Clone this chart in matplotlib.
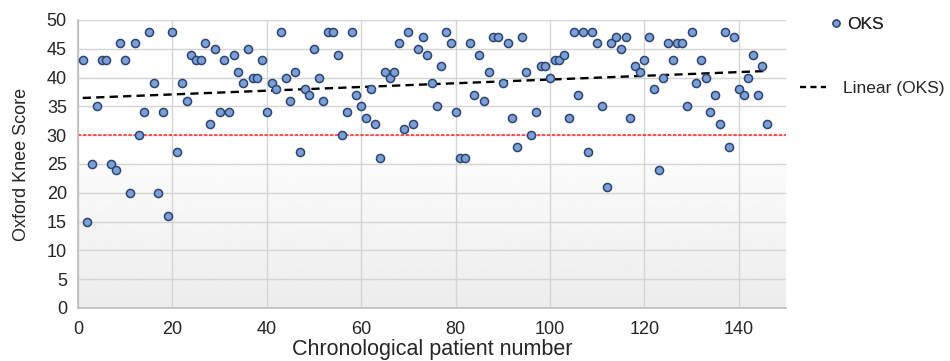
import numpy as np
import matplotlib.pyplot as plt
from matplotlib.lines import Line2D

# Oxford Knee Score per patient
oks = [43, 15, 25, 35, 43, 43, 25, 24, 46, 43,
       20, 46, 30, 34, 48, 39, 20, 34, 16, 48,
       27, 39, 36, 44, 43, 43, 46, 32, 45, 34,
       43, 34, 44, 41, 39, 45, 40, 40, 43, 34,
       39, 38, 48, 40, 36, 41, 27, 38, 37, 45,
       40, 36, 48, 48, 44, 30, 34, 48, 37, 35,
       33, 38, 32, 26, 41, 40, 41, 46, 31, 48,
       32, 45, 47, 44, 39, 35, 42, 48, 46, 34,
       26, 26, 46, 37, 44, 36, 41, 47, 47, 39,
       46, 33, 28, 47, 41, 30, 34, 42, 42, 40,
       43, 43, 44, 33, 48, 37, 48, 27, 48, 46,
       35, 21, 46, 47, 45, 47, 33, 42, 41, 43,
       47, 38, 24, 40, 46, 43, 46, 46, 35, 48,
       39, 43, 40, 34, 37, 32, 48, 28, 47, 38,
       37, 40, 44, 37, 42, 32]
patient = np.arange(1, len(oks) + 1)
threshold = 30
xticks = [0, 20, 40, 60, 80, 100, 120, 140]
yticks = [0, 5, 10, 15, 20, 25, 30, 35, 40, 45, 50]

plt.rcParams["font.family"] = ["Liberation Sans", "DejaVu Sans"]
txt = "#262626"

fig = plt.figure(figsize=(9.5, 3.61), dpi=100)
ax = fig.add_axes([78 / 950, 53 / 361, 708 / 950, 288 / 361])

# excel-like background: white at top, light grey gradient lower down
yy = np.linspace(0, 50, 200)
shade = np.interp(yy, [0, 25, 26, 50], [0.925, 0.985, 1.0, 1.0])
ax.imshow(shade[:, None], extent=[0, 150, 0, 50], origin="lower",
          cmap="gray", vmin=0, vmax=1, aspect="auto", zorder=0)

ax.set_xlim(0, 150)
ax.set_ylim(0, 50)
ax.set_xticks(xticks)
ax.set_yticks(yticks)
ax.grid(True, color="#d4d4d4", lw=1.0, zorder=1)
ax.set_axisbelow(True)
for s in ["top", "right"]:
    ax.spines[s].set_visible(False)
for s in ["left", "bottom"]:
    ax.spines[s].set_color("#bdbdbd")
    ax.spines[s].set_linewidth(1.2)
ax.tick_params(length=0, labelsize=13, colors=txt)
ax.tick_params(axis="x", pad=9)
ax.tick_params(axis="y", pad=8)

ax.axhline(threshold, color="#ff2b2b", lw=1.1, ls=(0, (2.2, 1.1)), zorder=2)

coef = np.polyfit(patient, oks, 1)
ax.plot(patient, np.polyval(coef, patient), color="black", lw=1.7,
        ls=(0, (3.5, 2.2)), zorder=3)

ax.scatter(patient, oks, s=34, c="#7d9fd4", edgecolors="#2b4575",
           linewidths=1.1, zorder=4)

ax.set_xlabel("Chronological patient number", fontsize=15.5, color=txt, labelpad=1)
ax.set_ylabel("Oxford Knee Score", fontsize=13, color=txt, labelpad=12)

h1 = Line2D([], [], ls="none", marker="o", ms=5, mfc="#7d9fd4",
            mec="#2b4575", mew=1.0)
h2 = Line2D([], [], color="black", lw=1.7, ls=(0, (2.6, 1.8)))
leg1 = fig.legend([h1], ["OKS"], loc="center left",
                  bbox_to_anchor=(831 / 950, 1 - 24 / 361), frameon=False,
                  fontsize=12.5, handlelength=0.6, handletextpad=0.3,
                  borderpad=0, borderaxespad=0, labelcolor=txt)
leg2 = fig.legend([h2], ["Linear (OKS)"], loc="center left",
                  bbox_to_anchor=(800 / 950, 1 - 88 / 361), frameon=False,
                  fontsize=12.5, handlelength=1.5, handletextpad=0.95,
                  borderpad=0, borderaxespad=0, labelcolor=txt)
fig.add_artist(leg1)

fig.savefig("out.png", dpi=100, facecolor="white")
